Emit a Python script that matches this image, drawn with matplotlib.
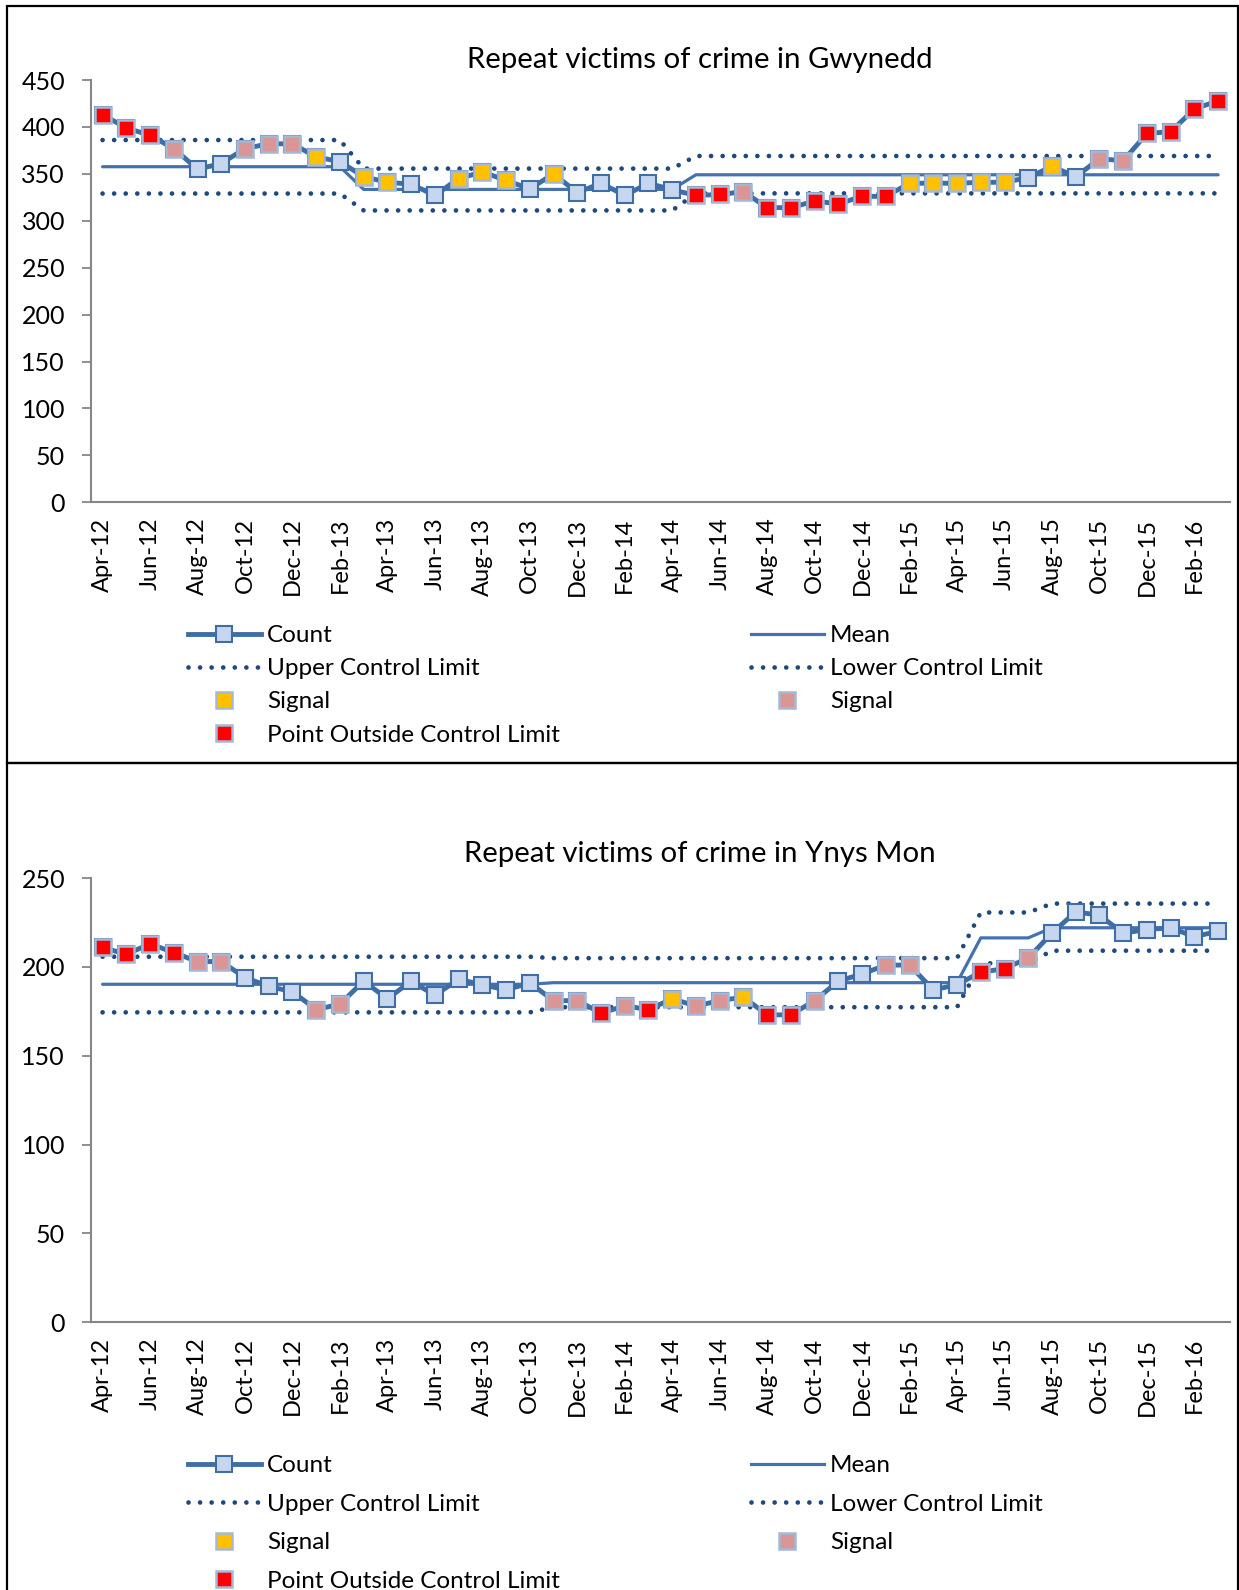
import matplotlib
matplotlib.use('Agg')
import matplotlib.pyplot as plt
from matplotlib.lines import Line2D
from matplotlib.patches import Rectangle
import numpy as np

W, H = 1239, 1590
plt.rcParams['font.family'] = ['Lato', 'DejaVu Sans']

# ---------------- data ----------------
tick_labels = ['Apr-12', 'Jun-12', 'Aug-12', 'Oct-12', 'Dec-12', 'Feb-13', 'Apr-13', 'Jun-13',
               'Aug-13', 'Oct-13', 'Dec-13', 'Feb-14', 'Apr-14', 'Jun-14', 'Aug-14', 'Oct-14',
               'Dec-14', 'Feb-15', 'Apr-15', 'Jun-15', 'Aug-15', 'Oct-15', 'Dec-15', 'Feb-16']

# Gwynedd (monthly Apr-12 .. Mar-16)
gwy_count = [413, 399, 391, 377, 355, 361, 377, 382, 382, 368, 363, 347, 341, 339, 327, 345,
             352, 343, 334, 350, 330, 340, 327, 340, 333, 327, 328, 331, 314, 314, 321, 318,
             326, 326, 340, 340, 340, 341, 341, 346, 358, 347, 366, 364, 393, 395, 419, 428]
# N = normal, Y = signal (yellow), P = signal (pink), R = point outside control limit
gwy_status = list('RRRPNNPPPYNYYNNYYYNYNNNNNRRPRRRRRRYYYYYNYNPPRRRR')
gwy_mean = [357.6] * 11 + [333.4] * 14 + [349.0] * 23
gwy_ucl = [386.0] * 11 + [355.6] * 14 + [369.0] * 23
gwy_lcl = [329.0] * 11 + [311.0] * 14 + [329.2] * 23

# Ynys Mon
ym_count = [211, 207, 213, 208, 203, 203, 194, 189, 186, 176, 179, 192, 182, 192, 184, 193,
            190, 187, 191, 181, 181, 174, 178, 176, 182, 178, 181, 183, 173, 173, 181, 192,
            196, 201, 201, 187, 190, 197, 199, 205, 219, 231, 229, 219, 221, 222, 217, 220]
ym_status = list('RRRRPPNNNPPNNNNNNNNPPRPRYPPYRRPNNPPNNRRPNNNNNNNN')
ym_mean = [190.2] * 19 + [191.1] * 18 + [216.3] * 3 + [222.0] * 8
ym_ucl = [205.7] * 19 + [204.9] * 18 + [230.6] * 3 + [235.6] * 8
ym_lcl = [174.4] * 19 + [177.3] * 18 + [202.0] * 3 + [209.1] * 8

# ---------------- style ----------------
line_c = '#3f6ea6'
mean_c = '#4472ae'
dot_c = '#1f497d'
face_c = '#c6d6ee'
sig_edge = '#a4b8d8'
col_y = '#ffc000'
col_p = '#d99694'
col_r = '#ff0000'
axis_c = '#868686'
DOTS = (0, (0.001, 2.45))
FS_YTICK = 18
FS_XTICK = 17
FS_LEG = 17.5
FS_TITLE = 21.2
MS = 11

fig = plt.figure(figsize=(W / 100, H / 100), dpi=100)


def rect(x0, y0, x1, y1):
    return [x0 / W, 1 - y1 / H, (x1 - x0) / W, (y1 - y0) / H]


def panel(box, title, title_y, counts, status, mean, ucl, lcl, ymax, ystep, leg_y, leg_sp):
    ax = fig.add_axes(rect(*box))
    x = np.arange(len(counts))
    counts = np.array(counts, dtype=float)
    status = np.array(status)
    ax.plot(x, ucl, ls=DOTS, lw=3.4, color=dot_c, dash_capstyle='round', zorder=2)
    ax.plot(x, lcl, ls=DOTS, lw=3.4, color=dot_c, dash_capstyle='round', zorder=2)
    ax.plot(x, mean, color=mean_c, lw=2.3, zorder=3, solid_capstyle='round')
    ax.plot(x, counts, color=line_c, lw=3.5, marker='s', ms=MS, mfc=face_c, mec=line_c,
            mew=1.5, zorder=4, solid_joinstyle='round')
    for code, col in (('Y', col_y), ('P', col_p), ('R', col_r)):
        m = status == code
        ax.plot(x[m], counts[m], ls='none', marker='s', ms=MS, mfc=col, mec=sig_edge,
                mew=1.8, zorder=5)
    ax.set_xlim(-0.5, len(counts) - 0.5)
    ax.set_ylim(0, ymax)
    ax.set_yticks(np.arange(0, ymax + 1, ystep))
    ax.set_xticks(np.arange(0, len(counts), 2))
    ax.set_xticklabels(tick_labels, rotation=90)
    for s in ('top', 'right'):
        ax.spines[s].set_visible(False)
    for s in ('left', 'bottom'):
        ax.spines[s].set_color(axis_c)
        ax.spines[s].set_linewidth(1.5)
    ax.tick_params(axis='y', length=6.5, width=1.3, color=axis_c, pad=12, labelsize=FS_YTICK)
    ax.tick_params(axis='x', length=0, pad=11, labelsize=FS_XTICK)
    fig.text(700 / W, 1 - title_y / H, title, ha='center', va='center', fontsize=FS_TITLE)

    h_count = Line2D([], [], color=line_c, lw=3.5, marker='s', ms=MS, mfc=face_c, mec=line_c, mew=1.5)
    h_mean = Line2D([], [], color=mean_c, lw=2.3)
    h_dot = Line2D([], [], ls=DOTS, lw=3.4, color=dot_c, dash_capstyle='round')
    h_y = Line2D([], [], ls='none', marker='s', ms=MS, mfc=col_y, mec=sig_edge, mew=1.8)
    h_p = Line2D([], [], ls='none', marker='s', ms=MS, mfc=col_p, mec=sig_edge, mew=1.8)
    h_r = Line2D([], [], ls='none', marker='s', ms=MS, mfc=col_r, mec=sig_edge, mew=1.8)
    common = dict(loc='upper left', bbox_transform=fig.transFigure, frameon=False,
                  fontsize=FS_LEG, handlelength=3.0, handletextpad=0.25, labelspacing=leg_sp,
                  borderpad=0, borderaxespad=0, numpoints=1)
    l1 = ax.legend([h_count, h_dot, h_y, h_r],
                   ['Count', 'Upper Control Limit', 'Signal', 'Point Outside Control Limit'],
                   bbox_to_anchor=(188 / W, 1 - leg_y / H), **common)
    ax.add_artist(l1)
    ax.legend([h_mean, h_dot, h_p], ['Mean', 'Lower Control Limit', 'Signal'],
              bbox_to_anchor=(751 / W, 1 - leg_y / H), **common)
    return ax


panel((90.7, 80, 1230, 502.3), 'Repeat victims of crime in Gwynedd', 60,
      gwy_count, gwy_status, gwy_mean, gwy_ucl, gwy_lcl, 450, 50, 625, 0.5)
panel((90.7, 878, 1230, 1322.3), 'Repeat victims of crime in Ynys Mon', 854,
      ym_count, ym_status, ym_mean, ym_ucl, ym_lcl, 250, 50, 1455, 0.72)

# panel borders
for (x0, y0, x1, y1) in ((7, 6, 1238, 763), (7, 763, 1238, 1600)):
    fig.patches.append(Rectangle((x0 / W, 1 - y1 / H), (x1 - x0) / W, (y1 - y0) / H,
                                 transform=fig.transFigure, fill=False, ec='black', lw=1.6))

fig.savefig('out.png', dpi=100)
